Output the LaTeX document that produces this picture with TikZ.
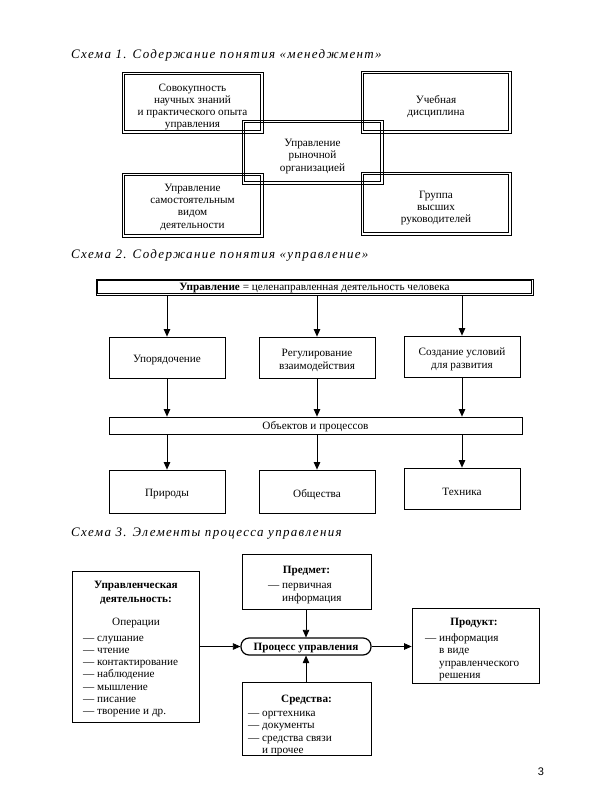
\documentclass[tikz,border=0pt]{standalone}
\usepackage{fontspec}
\setmainfont{Liberation Serif}
\setsansfont{Liberation Sans}
\usetikzlibrary{arrows.meta}
\newcommand{\innerframe}[2]{\draw[line width=0.7pt] ([shift={(#2,#2)}]#1.north west) rectangle ([shift={(-#2,-#2)}]#1.south east);}
\begin{document}
\begin{tikzpicture}[x=1pt,y=-1pt,
  txt/.style={font=\fontsize{11.2}{12.3}\selectfont, align=center, inner sep=0pt},
  tin/.style={txt, yshift=-3pt},
  tin1/.style={txt, yshift=-4.5pt},
  btxt/.style={txt, yshift=-3pt, font=\fontsize{11.2}{14}\selectfont\bfseries},
  fr/.style={draw, line width=0.9pt, inner sep=0pt},
  box/.style={draw, line width=0.8pt, inner sep=0pt},
  arr/.style={-{Triangle[length=7.5pt,width=6.5pt]}, line width=0.7pt},
  ttl/.style={font=\fontsize{13}{15}\selectfont\itshape\addfontfeature{LetterSpace=10}, anchor=west, inner sep=0pt}]
\fill[white] (0,0) rectangle (600,800);
\path[use as bounding box] (0,0) rectangle (600,800);

% ---------- Schema 1 ----------
\node[ttl] (t1) at (71,55) {Схема 1. Содержание понятия «менеджмент»};
\node[fr, minimum width=141pt, minimum height=61pt] (a1) at (192.5,102.5) {};
\node[fr, minimum width=150pt, minimum height=62pt] (a2) at (436,102) {};
\node[fr, minimum width=141pt, minimum height=64pt] (a0) at (312.5,152) {};
\node[fr, minimum width=141pt, minimum height=64pt] (a3) at (192.5,205) {};
\node[fr, minimum width=150pt, minimum height=63pt] (a4) at (436,203.5) {};
\innerframe{a1}{3}
\innerframe{a2}{3}
\innerframe{a0}{3}
\innerframe{a3}{3}
\innerframe{a4}{3}
\node[tin1] (a1t) at (a1.center) {Совокупность\\научных знаний\\и практического опыта\\управления};
\node[tin1] (a2t) at (a2.center) {Учебная\\дисциплина};
\node[tin1] (a0t) at (a0.center) {Управление\\рыночной\\организацией};
\node[txt, yshift=-2pt] (a3t) at (a3.center) {Управление\\самостоятельным\\видом\\деятельности};
\node[tin1] (a4t) at (a4.center) {Группа\\высших\\руководителей};

% ---------- Schema 2 ----------
\node[ttl] (t2) at (71,255) {Схема 2. Содержание понятия «управление»};
\node[box, minimum width=437pt, minimum height=16pt] (top) at (314.5,287) {};
\innerframe{top}{2}
\node[txt, yshift=-1pt] (topt) at (top.center) {\textbf{Управление} = целенаправленная деятельность человека};
\node[box, minimum width=116pt, minimum height=41pt] (m1) at (167,357.5) {};
\node[box, minimum width=116pt, minimum height=41pt] (m2) at (317,357.5) {};
\node[box, minimum width=116pt, minimum height=41pt] (m3) at (462,356.5) {};
\node[tin] (m1t) at (m1.center) {Упорядочение};
\node[tin] (m2t) at (m2.center) {Регулирование\\взаимодействия};
\node[tin] (m3t) at (m3.center) {Создание условий\\для развития};
\node[box, minimum width=413pt, minimum height=17pt] (bar) at (315.5,425.5) {};
\node[txt, yshift=-1pt] (bart) at (bar.center) {Объектов и процессов};
\node[box, minimum width=116pt, minimum height=43pt] (o1) at (167,491.5) {};
\node[box, minimum width=116pt, minimum height=43pt] (o2) at (317,491.5) {};
\node[box, minimum width=116pt, minimum height=41pt] (o3) at (462,488.5) {};
\node[tin] (o1t) at (o1.center) {Природы};
\node[tin] (o2t) at (o2.center) {Общества};
\node[tin] (o3t) at (o3.center) {Техника};
\foreach \m in {m1,m2,m3}{
  \draw[arr] (top.south -| \m.north) -- (\m.north);
  \draw[arr] (\m.south) -- (bar.north -| \m.south);
}
\foreach \o in {o1,o2,o3}{
  \draw[arr] (bar.south -| \o.north) -- (\o.north);
}

% ---------- Schema 3 ----------
\node[ttl] (t3) at (71,534) {Схема 3. Элементы процесса управления};
\node[box, minimum width=127pt, minimum height=151pt] (L) at (135.5,646.5) {};
\node[btxt] (Lh) at (136,590) {Управленческая\\деятельность:};
\node[tin] (Lo) at (136,620) {Операции};
\node[tin, anchor=west, align=left] (Ll) at (83,673.5) {— слушание\\— чтение\\— контактирование\\— наблюдение\\— мышление\\— писание\\— творение и др.};

\node[box, minimum width=129pt, minimum height=55pt] (P) at (306.5,581.5) {};
\node[btxt] (Ph) at (306.5,568) {Предмет:};
\node[tin, anchor=west] (Pl) at (268,589.5) {\begin{tabular}{@{}l@{ }l@{}}—&первичная\\&информация\end{tabular}};

\node[draw, line width=1.2pt, rounded corners=8pt, minimum width=130pt, minimum height=17pt, inner sep=0pt] (proc) at (306,646.5) {};
\node[btxt, yshift=1.5pt] (proct) at (proc.center) {Процесс управления};

\node[box, minimum width=129pt, minimum height=73pt] (S) at (306.5,718.5) {};
\node[btxt] (Sh) at (306.5,697) {Средства:};
\node[tin, anchor=west] (Sl) at (248,729.5) {\begin{tabular}{@{}l@{ }l@{}}—&оргтехника\\—&документы\\—&средства связи\\&и прочее\end{tabular}};

\node[box, minimum width=127pt, minimum height=75pt] (R) at (475.5,645.5) {};
\node[btxt] (Rh) at (474,620) {Продукт:};
\node[tin, anchor=west] (Rl) at (425,654.5) {\begin{tabular}{@{}l@{ }l@{}}—&информация\\&в виде\\&управленческого\\&решения\end{tabular}};

\draw[arr] (L.east |- proc.west) -- (proc.west);
\draw[arr] (proc.east) -- (R.west |- proc.east);
\draw[arr] (P.south -| proc.north) -- (proc.north);
\draw[arr] (S.north -| proc.south) -- (proc.south);

\node[font=\sffamily\fontsize{11}{13}\selectfont, inner sep=0pt] (pg) at (541,772) {3};
\end{tikzpicture}
\end{document}
